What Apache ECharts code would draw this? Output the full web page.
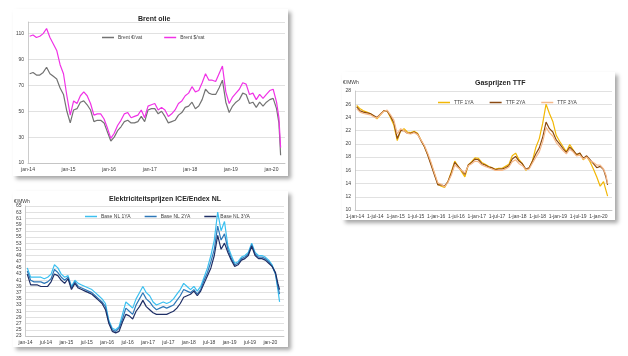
<!DOCTYPE html>
<html><head><meta charset="utf-8">
<script src="https://cdn.jsdelivr.net/npm/echarts@6/dist/echarts.min.js"></script>
<style>
html,body{margin:0;padding:0;background:#fff;width:628px;height:356px;overflow:hidden}
.p{position:absolute;background:#fff;box-shadow:3px 3px 4px rgba(0,0,0,0.35)}
</style></head><body>
<div id="c1" class="p" style="left:13px;top:9px;width:275px;height:167px"></div>
<div id="c2" class="p" style="left:13px;top:191px;width:275px;height:156px"></div>
<div id="c3" class="p" style="left:342px;top:72px;width:273px;height:148px"></div>
<script>
// month positions (0 = 1 Jan 2014); mid-month Jan 2014..Feb 2020, then early and late March 2020
const monthPos = [];
for (let i = 0; i < 74; i++) monthPos.push(i + 0.5);
monthPos.push(74.2, 74.7);

const brentTicks = ['jan-14','jan-15','jan-16','jan-17','jan-18','jan-19','jan-20'];
const elecTicks = ['jan-14','jul-14','jan-15','jul-15','jan-16','jul-16','jan-17','jul-17','jan-18','jul-18','jan-19','jul-19','jan-20'];
const gasTicks = ['1-jan-14','1-jul-14','1-jan-15','1-jul-15','1-jan-16','1-jul-16','1-jan-17','1-jul-17','1-jan-18','1-jul-18','1-jan-19','1-jul-19','1-jan-20'];

const brentEur = [79,80,78,78,80,84,79,77,75,68,63,50,
  41,51,52,57,58,55,51,42,43,43,41,34,
  27,30,35,38,42,43,41,41,42,46,42,51,
  52,52,48,50,46,41,42,43,47,49,53,54,
  57,52,54,59,67,64,63,63,68,74,57,49,
  54,57,59,64,63,56,57,53,57,54,57,59,
  60,52,41,16];
const brentUsd = [108,109,107,108,110,114,107,102,97,86,79,62,
  47,58,56,62,65,62,56,47,48,48,44,37,
  29,33,39,43,48,49,45,46,47,51,45,54,
  55,56,51,53,51,46,48,51,56,58,62,64,
  69,65,66,72,79,74,74,73,79,85,65,56,
  61,64,67,72,71,63,64,59,63,60,63,66,
  67,57,45,22];

const elec1 = [45,42,42,42,42,41.5,42,43,46,45,43,42,
  42.5,39,41,40,39.5,39,38.5,38,37,36,35,33.5,
  28,25.5,25,26,30,34,33,32,35,37,39,37,
  36,34,33,33.5,34,33.5,34,35,36.5,38,40,39,
  38,39,37.5,39,42,45,49,54,63,57,60,52,
  49,46.5,47,48.5,49,50,53,50,49,49,48.5,47.5,
  46,43,38,34];
const elec2 = [44,41,40.5,40.5,40.5,40,40.5,41.5,44.5,43.5,42,41,
  42,38.5,40.5,39,38.5,38,37.5,37,36,35,34,32.5,
  27.5,25,24.5,25.5,28.5,32,31,30,33,35,37,35,
  34,32.5,31.5,32,32.5,32,32.5,33,34.5,36,38,37.5,
  37,38,36.5,38,41,43.5,47,51,58.5,54,56,51,
  48,46,46.5,48,48.5,49.5,52.5,49.5,48.5,48.5,48,47,
  45.5,43,39,36.5];
const elec3 = [43,39.5,39.5,39.5,39,39,39,40.5,43,42.5,41,40,
  41.5,38,40,38.5,38,37.5,37,36.5,35.5,34.5,33.5,31.5,
  27,24.5,24,24.5,27.5,30,29.5,28.5,31,32.5,34.5,32.5,
  31.5,30.5,30,30,30,30,30.5,31,32,33.5,35.5,36,
  36.5,37.5,36,37.5,40,42.5,45,49,55.5,51,53,50,
  47.5,45.5,46,47.5,48,49,52,49,48,48,47.5,46.5,
  45.5,43.5,40,38];

const gas1 = [25.8,25.3,25.0,24.8,24.6,24.2,23.8,24.4,25.0,25.0,24.0,22.8,
  20.5,22.0,22.3,21.8,21.7,21.9,21.6,20.6,19.6,18.4,17.0,15.5,
  13.9,13.6,13.4,14.3,15.8,17.4,16.6,15.8,15.0,16.8,17.3,17.9,
  17.8,17.2,16.9,16.6,16.4,16.2,16.3,16.3,16.6,16.9,18.2,18.6,
  17.6,17.0,16.0,16.3,17.5,19.5,20.8,23.1,26.0,24.6,23.4,21.3,
  20.4,19.6,18.8,19.9,19.1,18.3,18.6,17.6,18.1,17.3,16.2,15.0,
  13.6,14.3,13.0,12.1];
const gas2 = [25.6,25.0,24.8,24.7,24.6,24.3,24.0,24.5,25.0,25.0,24.2,23.2,
  20.8,22.0,22.0,21.6,21.6,21.8,21.5,20.5,19.6,18.3,16.8,15.3,
  13.8,13.8,13.6,14.3,15.6,17.2,16.6,16.0,15.4,16.8,17.2,17.7,
  17.6,17.0,16.8,16.5,16.4,16.1,16.2,16.2,16.4,16.7,17.7,18.1,
  17.4,17.0,16.2,16.4,17.4,18.5,19.4,21.0,23.3,22.3,21.8,20.6,
  20.0,19.3,18.7,19.5,19.0,18.4,18.6,17.8,18.2,17.6,17.0,16.4,
  16.6,16.1,15.0,13.8];
const gas3 = [25.3,24.8,24.6,24.5,24.4,24.1,23.9,24.4,24.9,25.1,24.4,23.6,
  21.5,22.3,22.0,21.6,21.5,21.7,21.4,20.6,19.8,18.6,17.2,15.6,
  14.1,13.9,13.5,14.2,15.3,16.8,16.4,16.0,15.6,16.7,17.0,17.4,
  17.3,16.8,16.6,16.4,16.2,16.0,16.0,16.0,16.2,16.5,17.3,17.6,
  17.0,16.7,16.1,16.2,17.1,18.0,18.8,20.3,22.5,21.7,21.2,20.2,
  19.6,19.0,18.5,19.2,18.8,18.2,18.3,17.7,18.0,17.5,17.2,16.8,
  16.8,16.2,15.3,14.0];

function pairs(vals){ return vals.map((v,i)=>[monthPos[i], v]); }
const FONT = 'Liberation Sans';
const txt = {fontFamily: FONT, fontSize: 5, color: '#404040'};

function line(name, vals, color, w){
  return {name, type:'line', data: pairs(vals), showSymbol:false, symbol:'none',
    lineStyle:{color, width: w||1.2}, itemStyle:{color}, animation:false};
}
function xAxis(ticks, step){
  return {type:'value', min:0, max:76, interval:step,
    axisLine:{show:true, lineStyle:{color:'#bfbfbf', width:0.8}},
    axisTick:{show:false}, splitLine:{show:false},
    axisLabel:Object.assign({margin:4, formatter: v => (v % step === 0 ? (ticks[v/step]||'') : '')}, txt)};
}
function yAxis(min, max, step){
  return {type:'value', min, max, interval:step,
    axisLine:{show:true, lineStyle:{color:'#bfbfbf', width:0.8}},
    axisTick:{show:false},
    splitLine:{show:true, lineStyle:{color:'#d9d9d9', width:0.8}},
    axisLabel:Object.assign({margin:4, showMaxLabel:true, formatter: v => ((v - min) % step === 0 ? String(v) : '')}, txt)};
}
function legend(left, top, gap){
  return {left, top, icon:'rect', itemWidth:12, itemHeight:1.5, itemGap:gap,
    textStyle:{fontFamily:FONT, fontSize:5, color:'#404040', padding:[0,0,0,-1]}};
}

const c1 = echarts.init(document.getElementById('c1'));
c1.setOption({
  animation:false,
  title:{text:'Brent olie', left:120, top:2, textStyle:{fontFamily:FONT, fontSize:7, fontWeight:'bold', color:'#262626'}},
  legend: legend(84, 21, 22),
  grid:{left:12, right:3, top:13, bottom:13},
  xAxis: xAxis(brentTicks, 12),
  yAxis: yAxis(10, 119, 20),
  series:[line('Brent €/vat', brentEur, '#737373'), line('Brent $/vat', brentUsd, '#f032e6')]
});

const c2 = echarts.init(document.getElementById('c2'));
c2.setOption({
  animation:false,
  title:{text:'Elektriciteitsprijzen ICE/Endex NL', left:91, top:0, textStyle:{fontFamily:FONT, fontSize:7, fontWeight:'bold', color:'#262626'}},
  legend: legend(67, 18, 14),
  grid:{left:8, right:4, top:15, bottom:11},
  graphic:[{type:'text', left:1, top:8, style:{text:'€/MWh', fontFamily:FONT, fontSize:5, fill:'#404040'}}],
  xAxis: xAxis(elecTicks, 6),
  yAxis: yAxis(23, 65, 2),
  series:[line('Base NL 1YA', elec1, '#3cc0f0'), line('Base NL 2YA', elec2, '#2e78b8'), line('Base NL 3YA', elec3, '#1f2f66')]
});

const c3 = echarts.init(document.getElementById('c3'));
c3.setOption({
  animation:false,
  title:{text:'Gasprijzen TTF', left:128, top:3, textStyle:{fontFamily:FONT, fontSize:7, fontWeight:'bold', color:'#262626'}},
  legend: legend(91, 23, 16),
  grid:{left:13, right:3, top:19, bottom:10},
  graphic:[{type:'text', left:1, top:8, style:{text:'€/MWh', fontFamily:FONT, fontSize:5, fill:'#404040'}}],
  xAxis: xAxis(gasTicks, 6),
  yAxis: yAxis(10, 28, 2),
  series:[line('TTF 1YA', gas1, '#f2b705'), line('TTF 2YA', gas2, '#8a4a12'), line('TTF 3YA', gas3, '#f5b889')]
});
</script></body></html>
